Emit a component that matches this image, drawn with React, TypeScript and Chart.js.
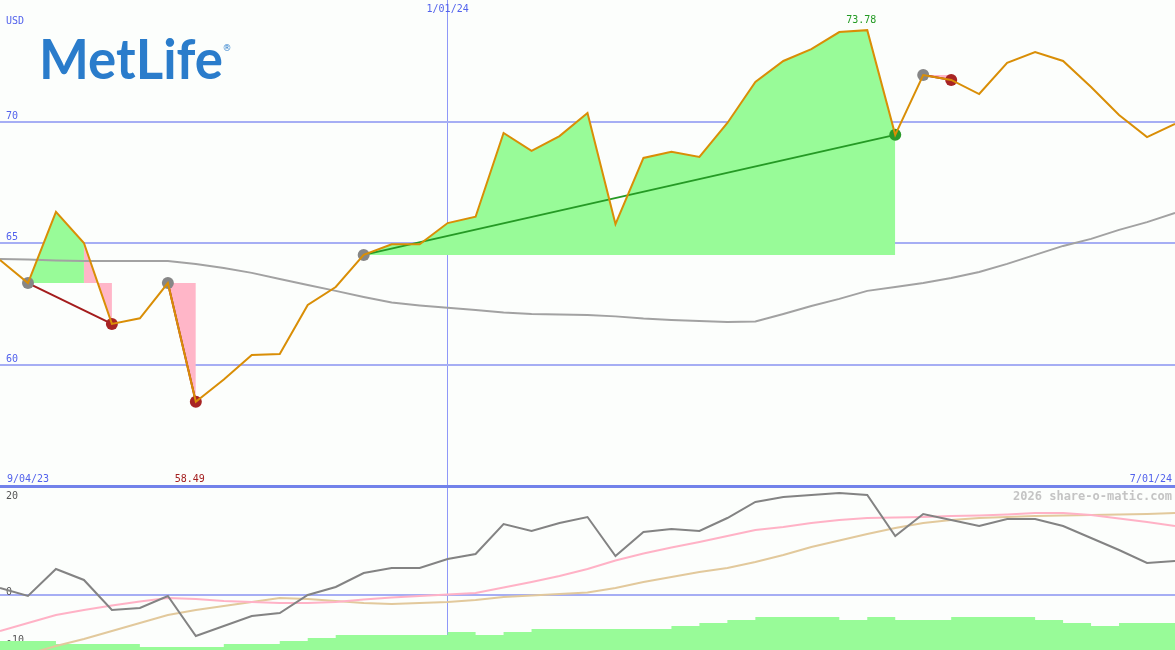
import React, { useEffect, useRef } from 'react';
import { Chart, registerables } from 'chart.js';

Chart.register(...registerables);

// ---------- data ----------
const weeks = [
  '9/11/23', '9/18/23', '9/25/23', '10/02/23', '10/09/23', '10/16/23', '10/23/23', '10/30/23',
  '11/06/23', '11/13/23', '11/20/23', '11/27/23', '12/04/23', '12/11/23', '12/18/23', '12/25/23',
  '1/01/24', '1/08/24', '1/15/24', '1/22/24', '1/29/24', '2/05/24', '2/12/24', '2/19/24',
  '2/26/24', '3/04/24', '3/11/24', '3/18/24', '3/25/24', '4/01/24', '4/08/24', '4/15/24',
  '4/22/24', '4/29/24', '5/06/24', '5/13/24', '5/20/24', '5/27/24', '6/03/24', '6/10/24',
  '6/17/24', '6/24/24', '7/01/24',
];

const price = [
  64.32, 63.37, 66.30, 65.02, 61.69, 61.92, 63.37, 58.49, 59.40, 60.41, 60.45, 62.47,
  63.21, 64.53, 64.97, 64.97, 65.84, 66.10, 69.55, 68.81, 69.42, 70.37, 65.80, 68.52,
  68.77, 68.56, 69.96, 71.65, 72.51, 73.00, 73.70, 73.78, 69.47, 71.93, 71.73, 71.15,
  72.43, 72.88, 72.51, 71.44, 70.29, 69.38, 69.92,
];

const priceAverage = [
  64.36, 64.34, 64.30, 64.28, 64.28, 64.28, 64.28, 64.16, 63.99, 63.79, 63.54, 63.29,
  63.05, 62.80, 62.57, 62.45, 62.35, 62.26, 62.16, 62.10, 62.08, 62.06, 62.00, 61.91,
  61.85, 61.81, 61.77, 61.79, 62.10, 62.43, 62.72, 63.05, 63.21, 63.37, 63.58, 63.83,
  64.16, 64.53, 64.90, 65.19, 65.56, 65.88, 66.26,
];

const tradeEntries = [1, 6, 13, 33];
const tradeExits = [4, 7, 32, 34];

const oscillator = [
  1.46, -0.21, 5.42, 3.13, -3.13, -2.71, -0.21, -8.54, -6.46, -4.38, -3.75, 0.0,
  1.67, 4.58, 5.63, 5.63, 7.5, 8.54, 14.79, 13.33, 15.0, 16.25, 8.13, 13.13,
  13.75, 13.33, 16.04, 19.38, 20.42, 20.83, 21.25, 20.83, 12.29, 16.88, 15.63, 14.38,
  15.83, 15.83, 14.38, 11.88, 9.38, 6.67, 7.08,
];

const oscillatorFast = [
  -7.5, -5.83, -4.17, -3.13, -2.19, -1.35, -0.63, -0.83, -1.25, -1.46, -1.67, -1.67,
  -1.46, -0.94, -0.52, -0.21, 0.1, 0.42, 1.56, 2.71, 3.96, 5.42, 7.19, 8.65,
  9.9, 11.04, 12.29, 13.54, 14.17, 15.0, 15.63, 16.04, 16.15, 16.25, 16.46, 16.56,
  16.77, 17.08, 17.08, 16.67, 15.94, 15.21, 14.38,
];

const oscillatorSlow = [
  -13.96, -12.29, -10.63, -9.17, -7.5, -5.83, -4.17, -3.13, -2.29, -1.46, -0.63, -0.83,
  -1.25, -1.67, -1.88, -1.67, -1.46, -1.04, -0.42, -0.1, 0.21, 0.52, 1.46, 2.71,
  3.75, 4.79, 5.63, 6.88, 8.33, 10.0, 11.35, 12.71, 13.96, 15.0, 15.63, 16.04,
  16.25, 16.46, 16.56, 16.67, 16.77, 16.88, 17.08,
];

const strengthBars = [
  2, 3, 3, 2, 2, 2, 1, 1, 1, 2, 2, 3, 4, 5, 5, 5, 5, 6, 5, 6, 7, 7,
  7, 7, 7, 8, 9, 10, 11, 11, 11, 10, 11, 10, 10, 11, 11, 11, 10, 9, 8, 9, 9,
];

const priceTicks = [55, 60, 65, 70];
const oscTicks = [-10, 0, 20];
const currency = 'USD';
const rangeStart = '9/04/23';
const rangeEnd = '7/01/24';
const markedWeek = '1/01/24';
const watermark = '2026 share-o-matic.com';

// ---------- styles ----------
const GREEN_FILL = '#98fb98';
const PINK_FILL = '#ffb6c8';
const BLUE_TEXT = '#5262ec';
const MONO = '"DejaVu Sans Mono", "Liberation Mono", monospace';

const zeroFit = (axis: any) => {
  if (axis.isHorizontal()) axis.height = 0;
  else axis.width = 0;
  axis.paddingTop = 0;
  axis.paddingBottom = 0;
  axis.paddingLeft = 0;
  axis.paddingRight = 0;
};

export default function App() {
  const ref = useRef<HTMLCanvasElement | null>(null);

  useEffect(() => {
    if (!ref.current) return;
    const datasets: any[] = [];

    datasets.push({
      label: 'price',
      data: price,
      borderColor: '#d98e06',
      borderWidth: 2,
      pointRadius: 0,
      tension: 0,
      yAxisID: 'y',
      order: 0,
    });

    const entryPts = weeks.map((_, i) => (tradeEntries.includes(i) ? price[i] : null));
    const lossPts = weeks.map((_, i) => {
      const k = tradeExits.indexOf(i);
      return k >= 0 && price[i] < price[tradeEntries[k]] ? price[i] : null;
    });
    const winPts = weeks.map((_, i) => {
      const k = tradeExits.indexOf(i);
      return k >= 0 && price[i] >= price[tradeEntries[k]] ? price[i] : null;
    });
    const markerDs = (data: any[], color: string) => ({
      data,
      showLine: false,
      pointRadius: 6,
      pointBorderWidth: 0,
      pointBackgroundColor: color,
      borderColor: color,
      backgroundColor: color,
      yAxisID: 'y',
      order: 1,
    });
    datasets.push(markerDs(entryPts, '#868686'));
    datasets.push(markerDs(lossPts, '#a82424'));
    datasets.push(markerDs(winPts, '#2a9a2a'));

    tradeEntries.forEach((e, k) => {
      const x = tradeExits[k];
      const entryPrice = price[e];
      const win = price[x] >= entryPrice;
      datasets.push({
        data: weeks.map((_, i) => (i === e || i === x ? price[i] : null)),
        spanGaps: true,
        borderColor: win ? '#259a25' : '#a41c1c',
        borderWidth: 2,
        pointRadius: 0,
        yAxisID: 'y',
        order: 2,
      });
      datasets.push({
        data: weeks.map((_, i) => (i >= e && i <= x ? price[i] : null)),
        borderWidth: 0,
        borderColor: 'rgba(0,0,0,0)',
        pointRadius: 0,
        backgroundColor: GREEN_FILL,
        fill: { value: entryPrice },
        segment: {
          backgroundColor: (c: any) =>
            price[c.p1DataIndex] >= entryPrice ? GREEN_FILL : PINK_FILL,
        },
        yAxisID: 'y',
        order: 4,
      });
    });

    datasets.push({
      data: priceAverage,
      borderColor: '#a2a2a2',
      borderWidth: 2,
      pointRadius: 0,
      yAxisID: 'y',
      order: 3,
    });

    datasets.push({
      data: oscillator,
      borderColor: '#838383',
      borderWidth: 2,
      pointRadius: 0,
      yAxisID: 'y2',
      order: 5,
    });
    datasets.push({
      data: oscillatorFast,
      borderColor: '#ffb2c6',
      borderWidth: 2,
      pointRadius: 0,
      yAxisID: 'y2',
      order: 5,
    });
    datasets.push({
      data: oscillatorSlow,
      borderColor: '#e2c99c',
      borderWidth: 2,
      pointRadius: 0,
      yAxisID: 'y2',
      order: 5,
    });
    datasets.push({
      data: strengthBars,
      stepped: 'after',
      borderWidth: 0,
      borderColor: 'rgba(0,0,0,0)',
      pointRadius: 0,
      backgroundColor: GREEN_FILL,
      fill: 'start',
      yAxisID: 'yb',
      order: 6,
    });

    const bgPlugin = {
      id: 'bg',
      beforeDraw(chart: any) {
        const c = chart.ctx;
        c.save();
        c.fillStyle = '#fcfefc';
        c.fillRect(0, 0, chart.width, chart.height);
        c.restore();
      },
    };

    const textPlugin = {
      id: 'texts',
      afterDraw(chart: any) {
        const c = chart.ctx;
        const xs = chart.scales.x;
        const ys = chart.scales.y;
        c.save();
        // logo
        c.fillStyle = '#2a7ccb';
        c.font = 'bold 56px Lato';
        c.textBaseline = 'alphabetic';
        c.textAlign = 'left';
        const w = c.measureText('MetLife').width;
        c.save();
        c.translate(39, 79);
        c.scale(184 / w, 1);
        c.fillText('MetLife', 0, 0);
        c.restore();
        c.font = '9px "DejaVu Sans"';
        c.textAlign = 'center';
        c.textBaseline = 'middle';
        c.fillText('®', 227, 49);

        c.font = `10px ${MONO}`;
        c.fillStyle = BLUE_TEXT;
        c.textAlign = 'left';
        c.fillText(currency, 6, 21);
        c.fillText(rangeStart, 7, 479);
        c.textAlign = 'right';
        c.fillText(rangeEnd, 1172, 479);
        c.textAlign = 'center';
        c.fillText(markedWeek, xs.getPixelForValue(weeks.indexOf(markedWeek)), 9);

        const minV = Math.min(...price);
        const maxV = Math.max(...price);
        const iMin = price.indexOf(minV);
        const iMax = price.indexOf(maxV);
        c.fillStyle = '#a42020';
        c.fillText(minV.toFixed(2), xs.getPixelForValue(iMin) - 6, 479);
        c.fillStyle = '#229a22';
        c.fillText(maxV.toFixed(2), xs.getPixelForValue(iMax) - 6, ys.getPixelForValue(maxV) - 10);

        c.font = `bold 12px ${MONO}`;
        c.fillStyle = '#c4c4c4';
        c.textAlign = 'right';
        c.fillText(watermark, 1172, 497);
        c.restore();
      },
    };

    const chart = new Chart(ref.current, {
      type: 'line',
      data: { labels: weeks, datasets },
      options: {
        animation: false,
        responsive: false,
        events: [],
        layout: { padding: 0, autoPadding: false },
        plugins: { legend: { display: false }, tooltip: { enabled: false } },
        scales: {
          x: {
            type: 'category',
            offset: false,
            border: { display: false },
            afterFit: zeroFit,
            grid: {
              drawTicks: false,
              color: (c: any) => (c.index === weeks.indexOf(markedWeek) ? '#8e98f8' : 'rgba(0,0,0,0)'),
              lineWidth: 1,
            },
            ticks: { display: false },
          },
          y: {
            type: 'linear',
            position: 'left',
            min: 48.27,
            max: 75.02,
            border: { display: false },
            afterFit: zeroFit,
            afterBuildTicks: (axis: any) => {
              axis.ticks = priceTicks.map((v) => ({ value: v }));
            },
            grid: {
              drawTicks: false,
              color: (c: any) => (c.tick && c.tick.value === 55 ? '#7282ea' : '#a6aef4'),
              lineWidth: (c: any) => (c.tick && c.tick.value === 55 ? 3 : 2),
            },
            ticks: {
              mirror: true,
              padding: 6,
              labelOffset: -6,
              color: BLUE_TEXT,
              font: { family: MONO, size: 10 },
              callback: (v: any) => (v === 55 ? '' : String(v)),
            },
          },
          y2: {
            type: 'linear',
            position: 'left',
            min: -11.46,
            max: 123.96,
            border: { display: false },
            afterFit: zeroFit,
            afterBuildTicks: (axis: any) => {
              axis.ticks = oscTicks.map((v) => ({ value: v }));
            },
            grid: {
              drawTicks: false,
              color: (c: any) => (c.tick && c.tick.value === 0 ? '#a6aef4' : 'rgba(0,0,0,0)'),
              lineWidth: 2,
            },
            ticks: {
              mirror: true,
              padding: 6,
              labelOffset: -3,
              color: '#555555',
              font: { family: MONO, size: 10 },
              callback: (v: any) => String(v),
            },
          },
          yb: {
            type: 'linear',
            display: false,
            min: 0,
            max: 650 / 3,
          },
        },
      } as any,
      plugins: [bgPlugin, textPlugin],
    });

    return () => chart.destroy();
  }, []);

  return (
    <div style={{ position: 'fixed', left: 0, top: 0, width: 1175, height: 650, background: '#fcfefc' }}>
      <canvas ref={ref} width={1175} height={650} style={{ display: 'block', width: 1175, height: 650 }} />
    </div>
  );
}
